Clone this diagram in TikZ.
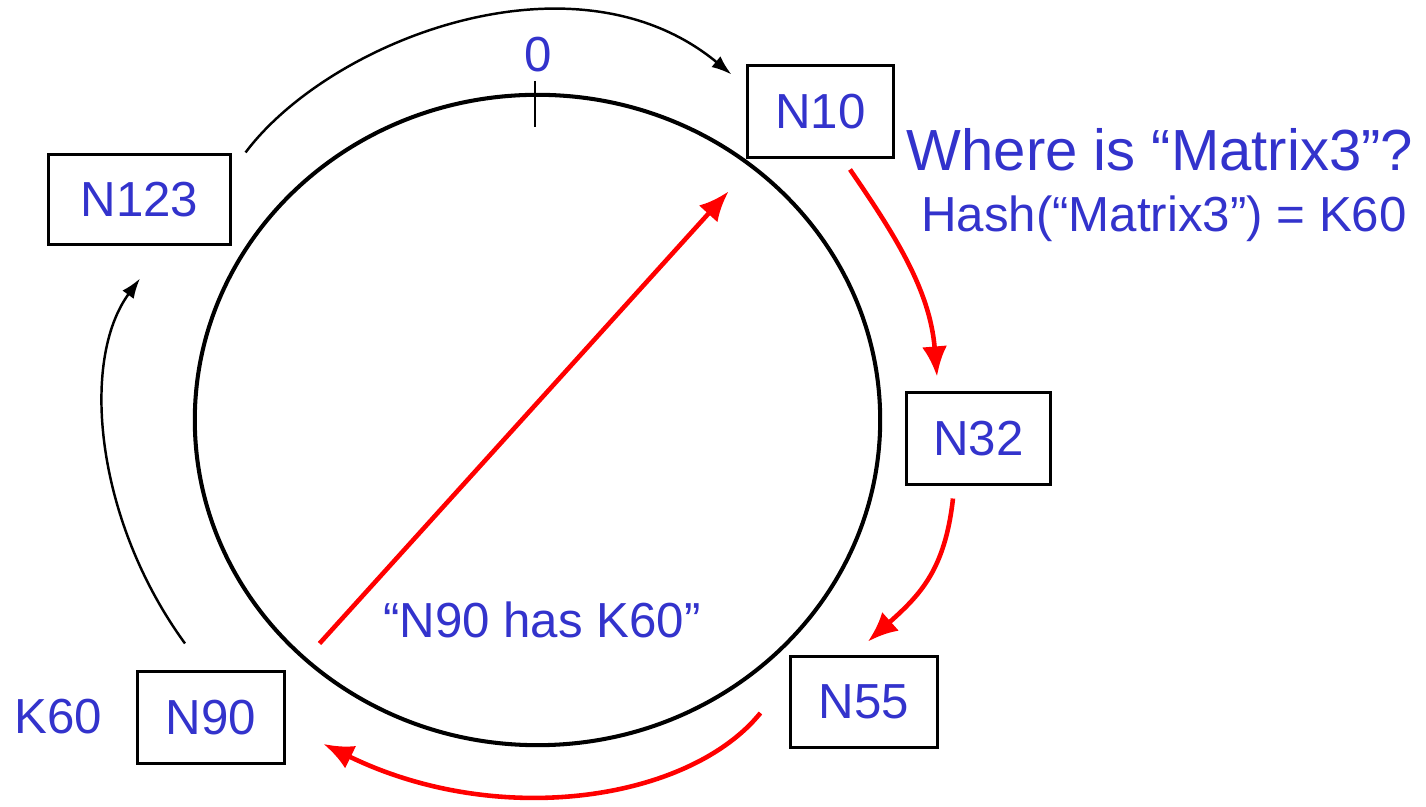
\documentclass[tikz,border=0pt]{standalone}
\usepackage{fontspec}
\setmainfont{Liberation Sans}
\usetikzlibrary{arrows.meta,calc}
\definecolor{labelblue}{RGB}{51,51,204}
\definecolor{hopred}{RGB}{255,0,0}
\tikzset{
  peer/.style={draw=black, line width=0.85pt, minimum height=0.91cm, inner sep=0pt,
    text=labelblue, font=\fontsize{14}{16}\selectfont},
  note/.style={text=labelblue, inner sep=0pt, font=\fontsize{14}{16}\selectfont},
  hop/.style={draw=hopred, line width=1.3pt, -{Latex[length=0.3cm,width=0.25cm]}},
  succ/.style={draw=black, line width=0.7pt, -{Latex[length=0.2cm,width=0.14cm]}}
}
\begin{document}
\begin{tikzpicture}[x=0.01cm, y=-0.01cm]
  \useasboundingbox (0,0) rectangle (1426,807);
  % identifier ring with the zero mark
  \draw[line width=1.15pt] (537.5,420) ellipse [x radius=3.425cm, y radius=3.25cm];
  \draw[line width=0.8pt] (535,81) -- (535,127);
  \node[note] (zero) at (538,55) {0};

  % peers on the ring
  \node[peer, minimum width=1.45cm] (n10)  at (820.5,111.5) {N10};
  \node[peer, minimum width=1.81cm, minimum height=0.89cm] (n123) at (139.5,199.5) {N123};
  \node[peer, minimum width=1.43cm] (n32)  at (978.5,438.5) {N32};
  \node[peer, minimum width=1.46cm, minimum height=0.90cm] (n55)  at (864,702) {N55};
  \node[peer, minimum width=1.46cm] (n90)  at (211,717.5) {N90};

  % labels
  \node[note] (k60) at (58,717) {K60};
  \node[note, font=\fontsize{16.5}{18}\selectfont] (query) at (1160,150) {Where is “Matrix3”?};
  \node[note] (hash) at (1164,219) {Hash(“Matrix3”) = K60};
  \node[note] (reply) at (542,620) {“N90 has K60”};

  % successor pointers
  \draw[succ] ($(n123.north east)+(14,-1)$) .. controls (330,40) and (575,-55) .. ($(n10.north west)+(-15,10)$);
  \draw[succ] ($(n90.north)+(-26,-27)$) .. controls (95,520) and (80,360) .. ($(n123.south)+(0.5,33)$);

  % lookup hops
  \draw[hop] ($(n10.south)+(29.5,11)$) .. controls (895,235) and (930,290) .. ($(n32.north)+(-41.5,-15)$);
  \draw[hop] ($(n32.south)+(-25.5,13)$) .. controls (945,570) and (920,595) .. ($(n55.north)+(4,-14)$);
  \draw[hop] ($(n55.west)+(-29,11)$) .. controls (690,800) and (500,830) .. ($(n90.east)+(38,26.5)$);
  \draw[hop] ($(n90.north east)+(34,-27)$) -- ($(n10.south west)+(-18,33)$);
\end{tikzpicture}
\end{document}
